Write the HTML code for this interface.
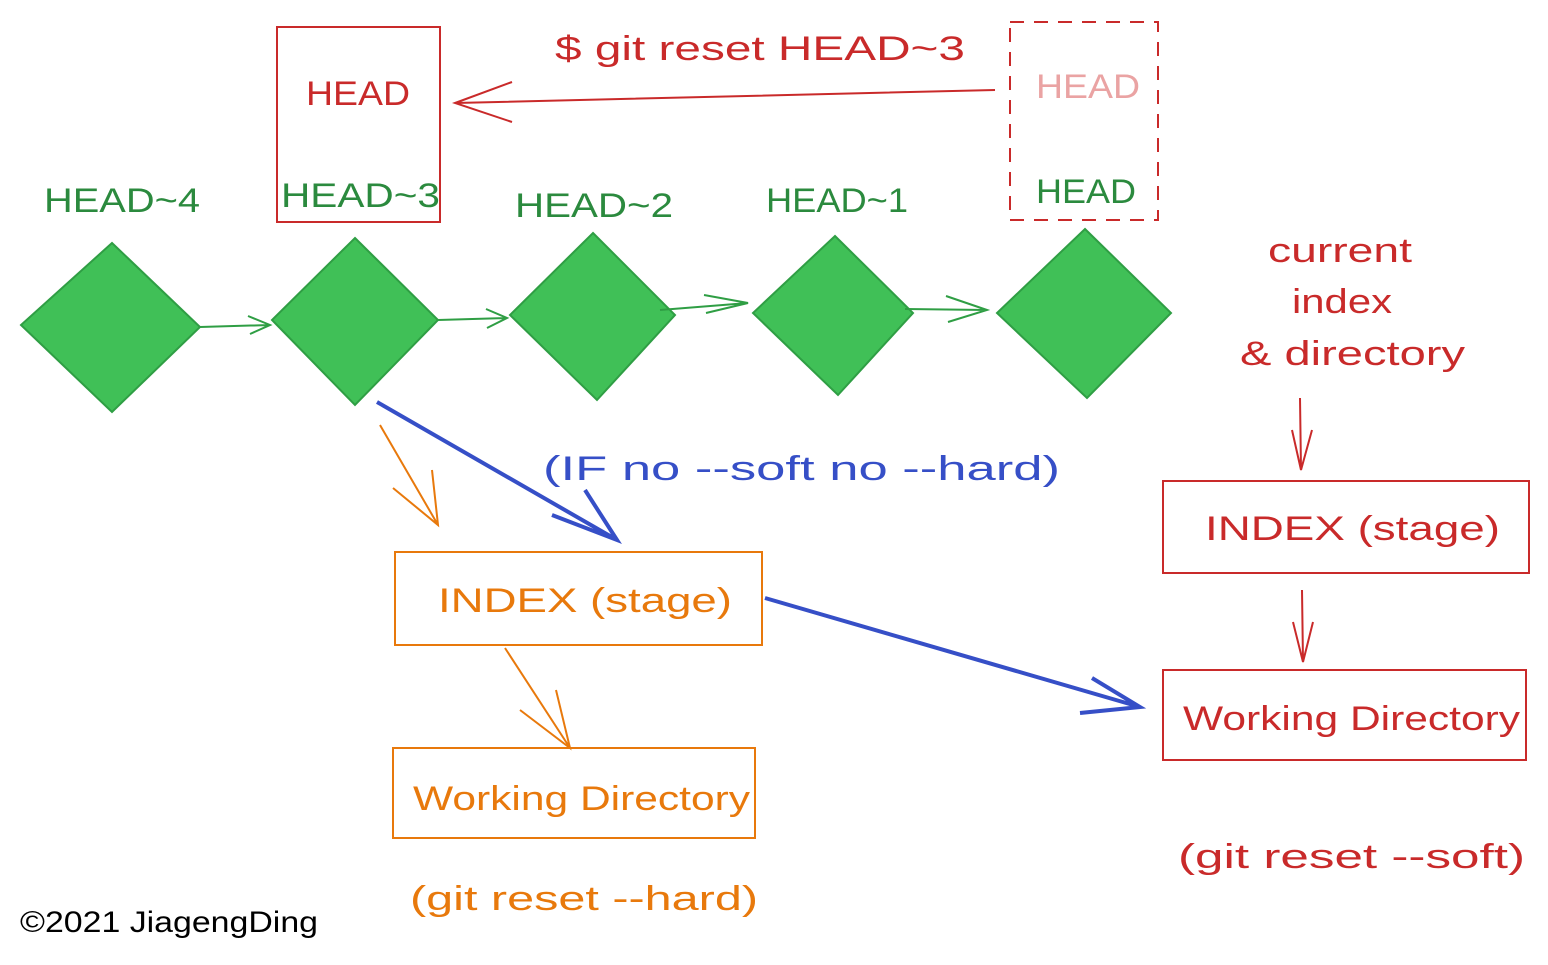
<!DOCTYPE html>
<html><head><meta charset="utf-8"><style>
html,body{margin:0;padding:0;background:#fff;}
svg{display:block}
text{font-family:"Liberation Sans",sans-serif;}
</style></head><body>
<svg width="1548" height="965" viewBox="0 0 1548 965" xmlns="http://www.w3.org/2000/svg">
<g fill="#40c057" stroke="#2f9e44" stroke-width="2">
<polygon points="112,243 200,327 112,412 21,325"/>
<polygon points="355,238 438,320 355,405 272,320"/>
<polygon points="593,233 675,315 597,400 510,315"/>
<polygon points="835,236 913,313 838,395 753,313"/>
<polygon points="1085,229 1171,313 1087,398 997,313"/>
</g>
<g stroke="#2f9e44" stroke-width="2" fill="none">
<path d="M200,327 L270,325 M248,316 L270,325 L250,334"/>
<path d="M438,320 L507,318 M486,309 L507,318 L487,328"/>
<path d="M660,310 L748,303 M704,295 L748,303 L706,313"/>
<path d="M905,309 L987,310 M946,296 L987,310 L948,322"/>
</g>
<g font-size="34" fill="#2b8a3e" lengthAdjust="spacingAndGlyphs">
<text x="44" y="212" textLength="156" lengthAdjust="spacingAndGlyphs">HEAD~4</text>
<text x="281" y="207" textLength="159" lengthAdjust="spacingAndGlyphs">HEAD~3</text>
<text x="515" y="217" textLength="158" lengthAdjust="spacingAndGlyphs">HEAD~2</text>
<text x="766" y="212" textLength="142" lengthAdjust="spacingAndGlyphs">HEAD~1</text>
<text x="1036" y="203" textLength="100" lengthAdjust="spacingAndGlyphs">HEAD</text>
</g>
<g fill="none" stroke="#c92a2a" stroke-width="2">
<rect x="277" y="27" width="163" height="195"/>
<rect x="1010" y="22" width="148" height="198" stroke-dasharray="14,10"/>
<path d="M995,90 L455,103 M512,82 L455,103 L512,122"/>
<path d="M1300,398 L1301,470 M1292,430 L1301,470 L1312,430"/>
<path d="M1302,590 L1303,662 M1293,622 L1303,662 L1313,622"/>
<rect x="1163" y="481" width="366" height="92"/>
<rect x="1163" y="670" width="363" height="90"/>
</g>
<g font-size="34" fill="#c92a2a">
<text x="306" y="105" textLength="104" lengthAdjust="spacingAndGlyphs">HEAD</text>
<text x="1036" y="98" fill="#eaa3a3" textLength="104" lengthAdjust="spacingAndGlyphs">HEAD</text>
<text x="555" y="60" textLength="410" lengthAdjust="spacingAndGlyphs">$ git reset HEAD~3</text>
<text x="1268" y="262" textLength="144" lengthAdjust="spacingAndGlyphs">current</text>
<text x="1292" y="313" textLength="100" lengthAdjust="spacingAndGlyphs">index</text>
<text x="1240" y="365" textLength="225" lengthAdjust="spacingAndGlyphs">&amp; directory</text>
<text x="1205" y="540" textLength="295" lengthAdjust="spacingAndGlyphs">INDEX (stage)</text>
<text x="1183" y="730" textLength="337" lengthAdjust="spacingAndGlyphs">Working Directory</text>
<text x="1178" y="868" textLength="347" lengthAdjust="spacingAndGlyphs">(git reset --soft)</text>
</g>
<g fill="none" stroke="#e8790c" stroke-width="2">
<rect x="395" y="552" width="367" height="93"/>
<rect x="393" y="748" width="362" height="90"/>
<path d="M380,425 L438,525 M393,488 L438,525 L432,470"/>
<path d="M505,648 L570,748 M520,710 L570,748 L556,690"/>
</g>
<g font-size="34" fill="#e8790c">
<text x="438" y="612" textLength="294" lengthAdjust="spacingAndGlyphs">INDEX (stage)</text>
<text x="413" y="810" textLength="337" lengthAdjust="spacingAndGlyphs">Working Directory</text>
<text x="410" y="910" textLength="348" lengthAdjust="spacingAndGlyphs">(git reset --hard)</text>
</g>
<g fill="none" stroke="#364fc7" stroke-width="4">
<path d="M377,402 L617,540 M552,515 L617,540 L585,490"/>
<path d="M765,598 L1140,707 M1080,713 L1140,707 L1092,678"/>
</g>
<text x="543" y="480" font-size="34" fill="#364fc7" textLength="517" lengthAdjust="spacingAndGlyphs">(IF no --soft no --hard)</text>
<text x="20" y="932" font-size="30" fill="#000" textLength="298" lengthAdjust="spacingAndGlyphs">©2021 JiagengDing</text>
</svg>
</body></html>
